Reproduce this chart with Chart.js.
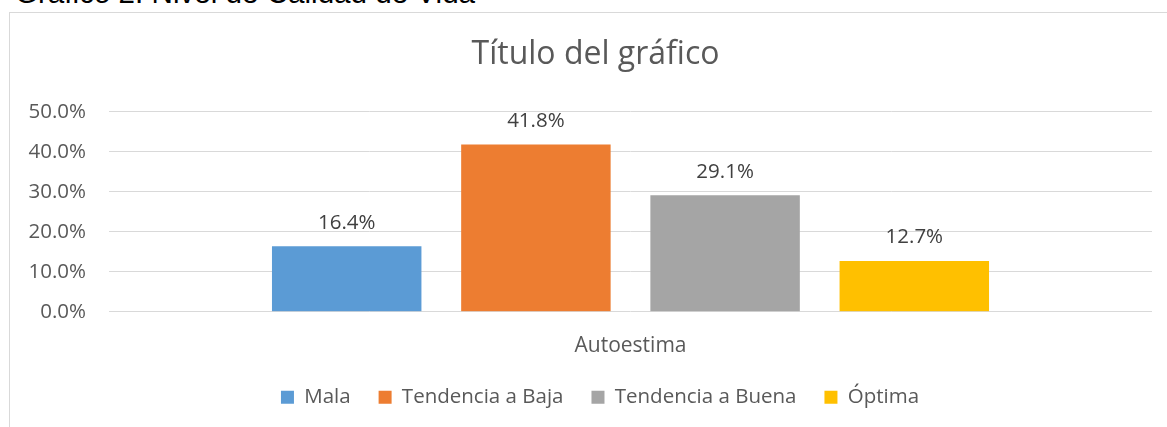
<!DOCTYPE html>
<html>
<head>
<meta charset="utf-8">
<script src="https://cdn.jsdelivr.net/npm/chart.js@4.4.1/dist/chart.umd.min.js"></script>
<style>
  html, body { margin: 0; padding: 0; background: #ffffff; overflow: hidden; width: 1167px; height: 427px; }
  #caption { position: absolute; left: 15px; top: -22.2px; font-family: "Liberation Sans", Arial, sans-serif; font-size: 29.6px; line-height: 30px; color: #000; white-space: nowrap; }
  #frame { position: absolute; left: 9px; top: 12px; width: 1300px; height: 600px; border: 1px solid #d9d9d9; box-sizing: border-box; }
  #c { position: absolute; left: 0; top: 0; }
</style>
</head>
<body>
<div id="caption">Gráfico 2. Nivel de Calidad de Vida</div>
<div id="frame"></div>
<canvas id="c" width="1167" height="427"></canvas>
<script>
// ---- Data ----
const categories = ['Autoestima'];
const seriesNames = ['Mala', 'Tendencia a Baja', 'Tendencia a Buena', 'Óptima'];
const mala = [16.4];
const tendenciaBaja = [41.8];
const tendenciaBuena = [29.1];
const optima = [12.7];
const yTicks = [0, 10, 20, 30, 40, 50];
const yTickLabels = ['0.0%', '10.0%', '20.0%', '30.0%', '40.0%', '50.0%'];
const chartTitle = 'Título del gráfico';

// ---- Styles ----
const colors = ['#5B9BD5', '#ED7D31', '#A5A5A5', '#FFC000'];
const FONT = '"Open Sans", "Noto Sans", sans-serif';
const textGrey = '#595959';

const seriesValues = [mala, tendenciaBaja, tendenciaBuena, optima];

const dataLabelPlugin = {
  id: 'dataLabels',
  afterDatasetsDraw(chart) {
    const ctx = chart.ctx;
    ctx.save();
    ctx.font = '20.5px ' + FONT;
    ctx.fillStyle = '#404040';
    ctx.textAlign = 'center';
    ctx.textBaseline = 'alphabetic';
    chart.data.datasets.forEach((ds, di) => {
      const meta = chart.getDatasetMeta(di);
      meta.data.forEach((el, i) => {
        ctx.fillText(ds.data[i].toFixed(1) + '%', el.x, el.y - 17.5);
      });
    });
    ctx.restore();
  }
};

// Centre title and legend on the chart frame rather than the full canvas
const frameCentrePlugin = {
  id: 'frameCentre',
  beforeDraw(chart) {
    if (chart.legend) chart.legend.left = 48;
    if (chart.titleBlock) chart.titleBlock.left = 39;
  }
};

new Chart(document.getElementById('c'), {
  type: 'bar',
  data: {
    labels: categories,
    datasets: seriesNames.map((name, i) => ({
      label: name,
      data: seriesValues[i],
      backgroundColor: colors[i],
      borderWidth: 0,
      categoryPercentage: 0.7256,
      barPercentage: 0.79
    }))
  },
  options: {
    responsive: false,
    devicePixelRatio: 1,
    animation: false,
    layout: { padding: { left: 0, right: 15, top: 0, bottom: 9.45 } },
    plugins: {
      title: {
        display: true,
        text: chartTitle,
        color: textGrey,
        font: { family: FONT, size: 32, weight: 'normal', lineHeight: 1.2 },
        padding: { top: 35.8, bottom: 37.5 }
      },
      legend: {
        position: 'bottom',
        labels: {
          color: textGrey,
          font: { family: FONT, size: 20.5 },
          boxWidth: 13,
          boxHeight: 13,
          padding: 28
        }
      },
      tooltip: { enabled: false }
    },
    scales: {
      x: {
        grid: { display: false, drawTicks: false },
        border: { display: false },
        ticks: { color: textGrey, font: { family: FONT, size: 21 }, padding: 22 },
        afterFit: (s) => { s.height = 47.3; }
      },
      y: {
        min: yTicks[0],
        max: yTicks[yTicks.length - 1],
        grid: { color: '#d9d9d9', lineWidth: 1, drawTicks: false },
        border: { display: false },
        ticks: {
          stepSize: yTicks[1] - yTicks[0],
          color: textGrey,
          font: { family: FONT, size: 20.5 },
          padding: 23,
          callback: (v) => {
            const k = yTicks.indexOf(Math.round(Number(v) * 1000) / 1000);
            return k >= 0 ? yTickLabels[k] : '';
          }
        },
        afterFit: (s) => { s.width = 109; }
      }
    }
  },
  plugins: [dataLabelPlugin, frameCentrePlugin]
});
</script>
</body>
</html>
